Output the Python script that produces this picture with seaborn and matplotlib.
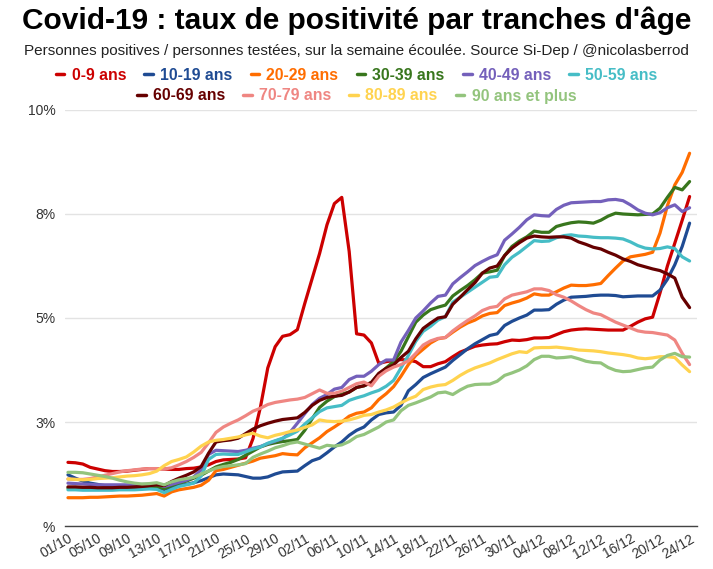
import numpy as np
import pandas as pd
import seaborn as sns
import matplotlib.pyplot as plt
from matplotlib.lines import Line2D

# taux de positivité (%) par jour, du 01/10 au 24/12
age_0_9 = [1.53, 1.52, 1.49, 1.41, 1.37, 1.33, 1.31, 1.31, 1.32, 1.34,
           1.36, 1.38, 1.38, 1.37, 1.36, 1.36, 1.38, 1.39, 1.42, 1.47,
           1.55, 1.59, 1.60, 1.61, 1.64, 2.10, 2.85, 3.80, 4.31, 4.56,
           4.60, 4.72, 5.35, 5.95, 6.55, 7.24, 7.75, 7.90, 6.60, 4.62,
           4.59, 4.40, 3.91, 3.95, 3.98, 4.00, 3.99, 3.95, 3.83, 3.83,
           3.90, 3.95, 4.07, 4.18, 4.25, 4.32, 4.35, 4.37, 4.38, 4.43,
           4.47, 4.46, 4.48, 4.52, 4.52, 4.53, 4.60, 4.67, 4.71, 4.73,
           4.74, 4.73, 4.72, 4.71, 4.71, 4.71, 4.80, 4.90, 4.98, 5.02,
           5.60, 6.25, 6.80, 7.35, 7.92]
age_10_19 = [1.23, 1.15, 1.08, 1.03, 1.00, 0.97, 0.94, 0.92, 0.91, 0.91,
             0.91, 0.91, 0.92, 0.88, 0.93, 0.98, 1.00, 1.04, 1.09, 1.16,
             1.23, 1.25, 1.24, 1.23, 1.19, 1.15, 1.15, 1.18, 1.25, 1.30,
             1.31, 1.32, 1.45, 1.57, 1.63, 1.76, 1.90, 2.02, 2.18, 2.30,
             2.38, 2.55, 2.68, 2.72, 2.74, 2.90, 3.25, 3.40, 3.57, 3.66,
             3.74, 3.82, 3.98, 4.12, 4.26, 4.38, 4.48, 4.58, 4.62, 4.82,
             4.92, 5.00, 5.07, 5.19, 5.19, 5.20, 5.33, 5.43, 5.50, 5.51,
             5.52, 5.54, 5.55, 5.55, 5.54, 5.51, 5.52, 5.53, 5.53, 5.53,
             5.67, 5.93, 6.28, 6.72, 7.28]
age_20_29 = [0.68, 0.68, 0.68, 0.69, 0.69, 0.70, 0.71, 0.72, 0.72, 0.73,
             0.74, 0.76, 0.78, 0.72, 0.82, 0.87, 0.90, 0.93, 0.98, 1.10,
             1.33, 1.36, 1.41, 1.46, 1.51, 1.56, 1.63, 1.66, 1.69, 1.74,
             1.72, 1.71, 1.88, 2.00, 2.12, 2.27, 2.38, 2.50, 2.64, 2.71,
             2.74, 2.84, 3.04, 3.18, 3.35, 3.60, 3.88, 4.10, 4.25, 4.40,
             4.50, 4.53, 4.66, 4.78, 4.88, 4.95, 5.05, 5.11, 5.13, 5.30,
             5.36, 5.41, 5.48, 5.58, 5.55, 5.55, 5.63, 5.72, 5.79, 5.78,
             5.78, 5.80, 5.83, 6.02, 6.20, 6.37, 6.47, 6.50, 6.53, 6.58,
             7.04, 7.70, 8.20, 8.50, 8.96]
age_30_39 = [0.91, 0.91, 0.90, 0.90, 0.89, 0.89, 0.89, 0.89, 0.90, 0.90,
             0.91, 0.93, 0.95, 0.90, 0.97, 1.03, 1.08, 1.15, 1.22, 1.32,
             1.42, 1.48, 1.53, 1.60, 1.70, 1.80, 1.90, 1.96, 2.00, 2.03,
             2.05, 2.08, 2.30, 2.58, 2.85, 3.00, 3.11, 3.17, 3.22, 3.33,
             3.37, 3.45, 3.65, 3.80, 3.95, 4.20, 4.55, 4.90, 5.07, 5.20,
             5.26, 5.31, 5.53, 5.66, 5.78, 5.92, 6.08, 6.11, 6.15, 6.50,
             6.72, 6.85, 6.95, 7.09, 7.06, 7.06, 7.20, 7.25, 7.29, 7.31,
             7.30, 7.28, 7.35, 7.45, 7.52, 7.50, 7.49, 7.48, 7.49, 7.50,
             7.64, 7.90, 8.14, 8.08, 8.28]
age_40_49 = [1.03, 1.02, 1.01, 1.00, 0.99, 0.99, 0.99, 0.99, 0.99, 0.99,
             1.00, 1.00, 1.01, 0.95, 1.00, 1.05, 1.10, 1.18, 1.35, 1.72,
             1.82, 1.81, 1.80, 1.79, 1.82, 1.87, 1.91, 1.98, 2.04, 2.10,
             2.25, 2.47, 2.70, 2.92, 3.07, 3.16, 3.29, 3.33, 3.52, 3.60,
             3.60, 3.72, 3.88, 3.99, 3.99, 4.42, 4.70, 5.00, 5.17, 5.36,
             5.52, 5.55, 5.82, 5.97, 6.11, 6.26, 6.36, 6.45, 6.52, 6.87,
             7.02, 7.18, 7.36, 7.48, 7.46, 7.45, 7.61, 7.71, 7.77, 7.78,
             7.79, 7.80, 7.80, 7.84, 7.85, 7.82, 7.72, 7.60, 7.52, 7.48,
             7.53, 7.65, 7.72, 7.56, 7.65]
age_50_59 = [0.87, 0.87, 0.86, 0.86, 0.86, 0.86, 0.86, 0.87, 0.87, 0.87,
             0.88, 0.89, 0.88, 0.80, 0.88, 0.95, 0.99, 1.03, 1.20, 1.60,
             1.72, 1.73, 1.72, 1.72, 1.78, 1.85, 1.90, 1.99, 2.05, 2.11,
             2.19, 2.28, 2.45, 2.60, 2.75, 2.84, 2.87, 2.90, 3.02, 3.08,
             3.13, 3.20, 3.26, 3.36, 3.50, 3.80, 4.10, 4.44, 4.68, 4.80,
             4.95, 5.03, 5.38, 5.50, 5.62, 5.74, 5.86, 5.98, 6.00, 6.28,
             6.46, 6.58, 6.72, 6.86, 6.84, 6.85, 6.93, 6.98, 7.00, 6.97,
             6.96, 6.94, 6.93, 6.93, 6.92, 6.90, 6.83, 6.74, 6.68, 6.66,
             6.67, 6.71, 6.67, 6.47, 6.37]
age_60_69 = [0.94, 0.94, 0.93, 0.93, 0.92, 0.92, 0.92, 0.93, 0.93, 0.94,
             0.95, 0.97, 0.99, 0.97, 1.07, 1.15, 1.22, 1.30, 1.43, 1.75,
             2.02, 2.05, 2.07, 2.11, 2.22, 2.33, 2.41, 2.47, 2.52, 2.56,
             2.58, 2.60, 2.73, 2.90, 3.02, 3.09, 3.12, 3.14, 3.22, 3.33,
             3.37, 3.45, 3.67, 3.79, 3.87, 4.05, 4.20, 4.50, 4.75, 4.88,
             5.00, 5.03, 5.33, 5.50, 5.68, 5.85, 6.08, 6.20, 6.25, 6.50,
             6.68, 6.81, 6.92, 6.97, 6.95, 6.94, 6.95, 6.95, 6.92, 6.83,
             6.77, 6.70, 6.66, 6.58, 6.51, 6.42, 6.36, 6.28, 6.23, 6.18,
             6.14, 6.06, 5.96, 5.50, 5.25]
age_70_79 = [1.13, 1.12, 1.12, 1.14, 1.18, 1.22, 1.26, 1.30, 1.33, 1.35,
             1.37, 1.38, 1.38, 1.37, 1.40, 1.47, 1.55, 1.65, 1.77, 2.00,
             2.25, 2.38, 2.47, 2.55, 2.65, 2.76, 2.83, 2.92, 2.97, 3.00,
             3.03, 3.05, 3.09, 3.18, 3.27, 3.19, 3.19, 3.24, 3.33, 3.42,
             3.46, 3.37, 3.60, 3.73, 3.82, 3.88, 3.97, 4.15, 4.35, 4.45,
             4.51, 4.53, 4.69, 4.82, 4.94, 5.05, 5.18, 5.25, 5.28, 5.46,
             5.55, 5.59, 5.63, 5.70, 5.70, 5.66, 5.56, 5.50, 5.41, 5.30,
             5.20, 5.12, 5.08, 4.99, 4.90, 4.83, 4.76, 4.69, 4.66, 4.65,
             4.62, 4.59, 4.47, 4.15, 3.88]
age_80_89 = [1.13, 1.12, 1.11, 1.12, 1.14, 1.15, 1.16, 1.18, 1.20, 1.21,
             1.23, 1.26, 1.32, 1.45, 1.55, 1.60, 1.66, 1.78, 1.92, 2.02,
             2.06, 2.08, 2.11, 2.14, 2.19, 2.23, 2.16, 2.12, 2.18, 2.22,
             2.27, 2.31, 2.37, 2.43, 2.55, 2.52, 2.51, 2.52, 2.55, 2.60,
             2.66, 2.68, 2.74, 2.79, 2.86, 2.96, 3.05, 3.12, 3.28, 3.34,
             3.38, 3.40, 3.50, 3.62, 3.72, 3.80, 3.86, 3.92, 4.00, 4.07,
             4.14, 4.19, 4.17, 4.28, 4.29, 4.29, 4.30, 4.28, 4.26, 4.23,
             4.22, 4.21, 4.19, 4.16, 4.14, 4.12, 4.09, 4.04, 4.02, 4.04,
             4.07, 4.07, 4.05, 3.87, 3.71]
age_90_plus = [1.29, 1.29, 1.28, 1.25, 1.22, 1.19, 1.15, 1.10, 1.06, 1.03,
               1.01, 1.02, 1.04, 0.99, 1.06, 1.11, 1.14, 1.17, 1.25, 1.32,
               1.39, 1.43, 1.45, 1.47, 1.50, 1.65, 1.73, 1.80, 1.88, 1.93,
               1.99, 2.02, 1.97, 1.92, 1.87, 1.94, 1.92, 1.95, 2.03, 2.15,
               2.20, 2.29, 2.38, 2.50, 2.55, 2.77, 2.90, 2.96, 3.03, 3.10,
               3.20, 3.22, 3.16, 3.27, 3.36, 3.40, 3.41, 3.41, 3.48, 3.62,
               3.68, 3.75, 3.85, 4.00, 4.08, 4.08, 4.04, 4.05, 4.07, 4.02,
               3.96, 3.93, 3.92, 3.81, 3.74, 3.71, 3.72, 3.76, 3.80, 3.82,
               3.99, 4.10, 4.15, 4.07, 4.06]

tranches = ["0-9 ans", "10-19 ans", "20-29 ans", "30-39 ans", "40-49 ans",
            "50-59 ans", "60-69 ans", "70-79 ans", "80-89 ans", "90 ans et plus"]
couleurs = ["#cc0000", "#1f4b93", "#ff6d00", "#38761d", "#7460bb",
            "#46bdc6", "#660000", "#ef8682", "#ffd34f", "#93c47d"]

dates = pd.date_range("2020-10-01", "2020-12-24").strftime("%d/%m")
y_ticks = [0, 2.5, 5, 7.5, 10]
y_labels = ["%", "3%", "5%", "8%", "10%"]

series = [age_0_9, age_10_19, age_20_29, age_30_39, age_40_49,
          age_50_59, age_60_69, age_70_79, age_80_89, age_90_plus]
df = pd.DataFrame({t: s for t, s in zip(tranches, series)})
df["jour"] = np.arange(len(dates))
long_df = df.melt(id_vars="jour", var_name="tranche", value_name="taux")

sns.set_style("white")
plt.rcParams["font.family"] = ["Liberation Sans", "DejaVu Sans"]

fig = plt.figure(figsize=(7.13, 5.69), dpi=100)
ax = fig.add_axes([65 / 713, 43 / 569, 632 / 713, 416 / 569])

sns.lineplot(data=long_df, x="jour", y="taux", hue="tranche",
             palette=dict(zip(tranches, couleurs)), linewidth=2.3,
             legend=False, ax=ax)

ax.set_xlim(-0.4, 85)
ax.set_ylim(0, 10)
ax.set_yticks(y_ticks)
ax.set_yticklabels(y_labels)
ax.set_xticks(np.arange(0, len(dates), 4))
ax.set_xticklabels(dates[::4], rotation=30, ha="right", rotation_mode="anchor")
ax.set_xlabel("")
ax.set_ylabel("")
ax.yaxis.grid(True, color="#e3e3e3", linewidth=1)
ax.set_axisbelow(True)
for s in ["top", "right", "left"]:
    ax.spines[s].set_visible(False)
ax.spines["bottom"].set_color("#444444")
ax.spines["bottom"].set_linewidth(1)
ax.tick_params(axis="both", length=0, labelsize=10, colors="#333333")
ax.tick_params(axis="y", pad=7)
ax.tick_params(axis="x", pad=4)

fig.text(0.5, 1 - 21 / 569, "Covid-19 : taux de positivité par tranches d'âge",
         ha="center", va="center", fontsize=21.5, fontweight="bold", color="black")
fig.text(0.5, 1 - 51 / 569,
         "Personnes positives / personnes testées, sur la semaine écoulée. Source Si-Dep / @nicolasberrod",
         ha="center", va="center", fontsize=11, color="#222222")

handles = [Line2D([0], [0], color=c, lw=2.5) for c in couleurs]
leg_kw = dict(loc="center", frameon=False, labelcolor="linecolor",
              prop={"weight": "bold", "size": 11.4}, handlelength=0.55,
              handletextpad=0.45, columnspacing=1.15)
fig.legend(handles[:6], tranches[:6], ncol=6,
           bbox_to_anchor=(0.5, 1 - 75 / 569), **leg_kw)
fig.legend(handles[6:], tranches[6:], ncol=4,
           bbox_to_anchor=(0.5, 1 - 96 / 569), **leg_kw)

fig.savefig("out.png", dpi=100)
